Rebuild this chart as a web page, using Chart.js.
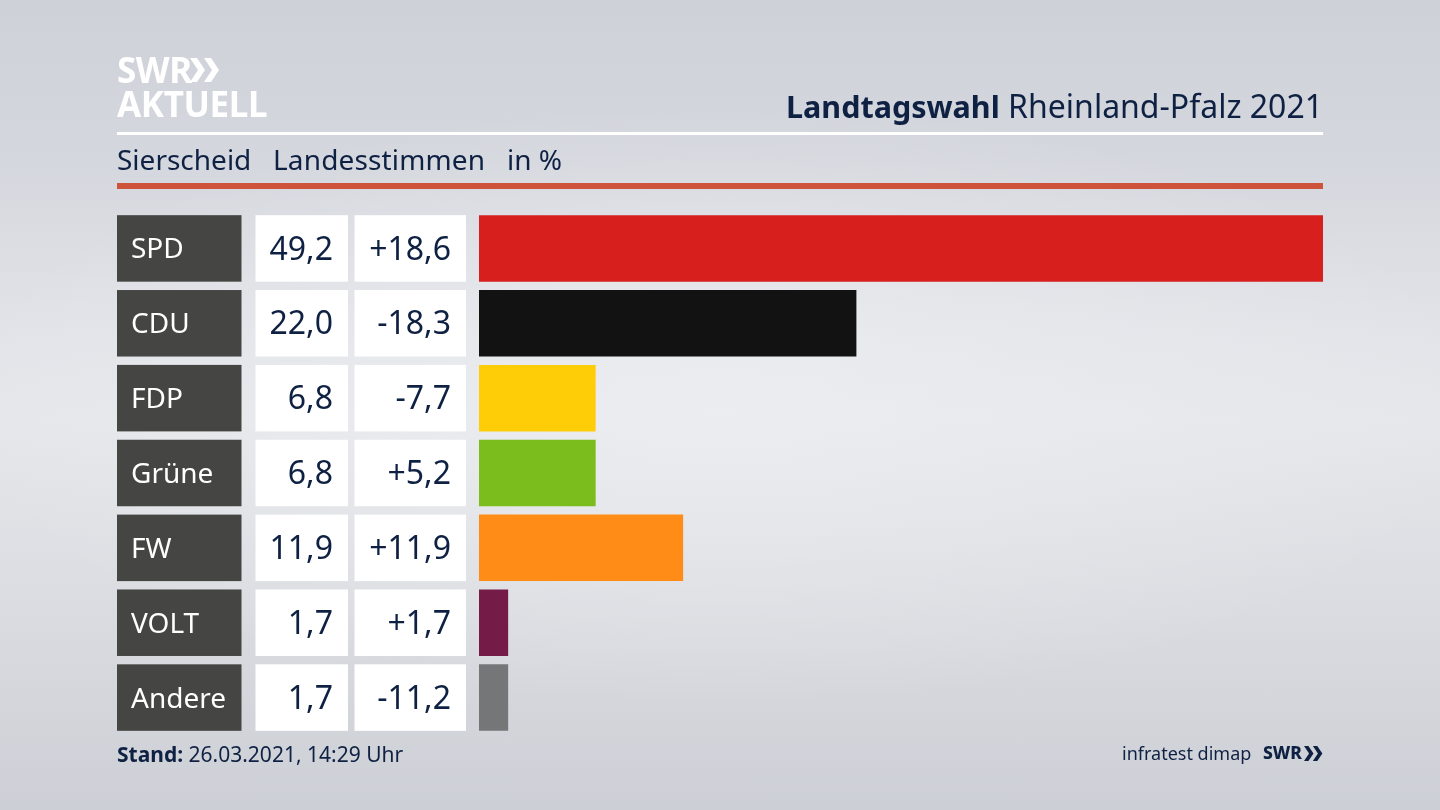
<!DOCTYPE html>
<html lang="de">
<head>
<meta charset="utf-8">
<title>Landtagswahl Rheinland-Pfalz 2021</title>
<script src="https://cdn.jsdelivr.net/npm/chart.js@4/dist/chart.umd.js"></script>
<style>
  html, body { margin: 0; padding: 0; }
  body {
    width: 1440px; height: 810px; position: relative; overflow: hidden;
    font-family: "Noto Sans", sans-serif; color: #0f2143;
    background:
      radial-gradient(ellipse 760px 300px at 50% 50%, rgba(238,239,242,0.7) 0%, rgba(238,239,242,0) 100%),
      linear-gradient(180deg, #ced1d8 0%, #d4d7dd 20%, #e3e4e9 42%, #e6e7eb 52%, #dadce1 75%, #cccfd5 100%);
  }
  canvas { position: absolute; left: 0; top: 0; }
  .t { position: absolute; white-space: nowrap; line-height: 1; }
  .rule { position: absolute; left: 117px; width: 1206px; }
</style>
</head>
<body>
<canvas id="wahlChart" width="1440" height="810"></canvas>

<div class="t" style="left:117px;top:52px;font-size:35px;font-weight:700;color:#fff;letter-spacing:-0.5px">SWR</div>
<svg style="position:absolute;left:190px;top:57px" width="30" height="26" viewBox="0 0 30 26">
  <path d="M0 1h7l8 12-8 12H0l8-12z M14 1h7l8 12-8 12h-7l8-12z" fill="#fff"/>
</svg>
<div class="t" style="left:117px;top:86px;font-size:35px;font-weight:700;color:#fff;letter-spacing:-0.4px">AKTUELL</div>

<div class="t" style="right:117px;top:90px;font-size:32px"><b style="font-size:30.5px">Landtagswahl</b> Rheinland-Pfalz 2021</div>
<div class="rule" style="top:132px;height:3px;background:#fff"></div>

<div class="t" style="left:117px;top:145px;font-size:28px">Sierscheid</div>
<div class="t" style="left:273px;top:145px;font-size:28px;letter-spacing:0.15px">Landesstimmen</div>
<div class="t" style="left:507px;top:145px;font-size:28px">in %</div>
<div class="rule" style="top:183px;height:6px;background:#cd533b"></div>

<div class="t" style="left:117px;top:744px;font-size:21px"><b>Stand:</b> 26.03.2021, 14:29 Uhr</div>
<div class="t" style="left:1122px;top:744px;font-size:18px">infratest dimap</div>
<div class="t" style="left:1263px;top:744px;font-size:17.5px;font-weight:800">SWR</div>
<svg style="position:absolute;left:1304px;top:745px" width="19" height="17" viewBox="0 0 30 26">
  <path d="M0 1h7l8 12-8 12H0l8-12z M14 1h7l8 12-8 12h-7l8-12z" fill="#0f2143"/>
</svg>

<script>
const parteien = ["SPD", "CDU", "FDP", "Grüne", "FW", "VOLT", "Andere"];
const stimmen = [49.2, 22.0, 6.8, 6.8, 11.9, 1.7, 1.7];
const differenz = [18.6, -18.3, -7.7, 5.2, 11.9, 1.7, -11.2];
const farben = ["#d71f1d", "#121212", "#ffcc08", "#7abd1c", "#ff8c17", "#741b47", "#757678"];

const komma = (v) => v.toFixed(1).replace(".", ",");
const mitVorzeichen = (v) => (v > 0 ? "+" : "") + komma(v);

// Boxes left of the bars, rows follow the y scale
const tabelle = {
  id: "tabelle",
  beforeDraw(chart) {
    const c = chart.ctx;
    const y = chart.scales.y;
    parteien.forEach((p, i) => {
      const top = y.getPixelForValue(i) - 33.25;
      c.fillStyle = "#454543";
      c.fillRect(117, top, 124.5, 66.5);
      c.fillStyle = "#ffffff";
      c.fillRect(255.5, top, 92.5, 66.5);
      c.fillRect(354.5, top, 111.5, 66.5);
    });
  },
  afterDraw(chart) {
    const c = chart.ctx;
    const y = chart.scales.y;
    c.save();
    c.font = '32px "Noto Sans", sans-serif';
    c.fillStyle = "#0f2143";
    c.textAlign = "right";
    c.textBaseline = "middle";
    parteien.forEach((p, i) => {
      const mid = y.getPixelForValue(i) + 2;
      c.fillText(komma(stimmen[i]), 333, mid);
      c.fillText(mitVorzeichen(differenz[i]), 451, mid);
    });
    c.restore();
  },
};

new Chart(document.getElementById("wahlChart"), {
  type: "bar",
  data: {
    labels: parteien,
    datasets: [
      {
        data: stimmen,
        backgroundColor: farben,
        categoryPercentage: 1,
        barPercentage: 0.888,
      },
    ],
  },
  plugins: [tabelle],
  options: {
    indexAxis: "y",
    responsive: false,
    animation: false,
    devicePixelRatio: 1,
    layout: { padding: { left: 131, right: 117, top: 211, bottom: 75 } },
    plugins: { legend: { display: false }, tooltip: { enabled: false } },
    scales: {
      x: { display: false, min: 0, max: 49.2 },
      y: {
        afterFit(scale) {
          scale.width = 348;
        },
        grid: { display: false },
        border: { display: false },
        ticks: {
          crossAlign: "far",
          padding: 0,
          labelOffset: 2,
          color: "#ffffff",
          font: { family: '"Noto Sans", sans-serif', size: 28 },
        },
      },
    },
  },
});
</script>
</body>
</html>
